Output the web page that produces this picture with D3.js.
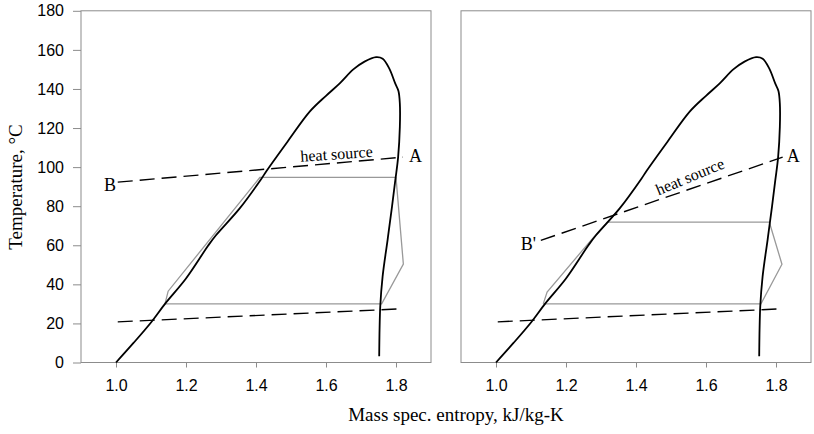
<!DOCTYPE html>
<html><head><meta charset="utf-8">
<script src="https://cdn.jsdelivr.net/npm/d3@7"></script>
<style>body{margin:0;background:#fff}svg{display:block}</style>
</head><body>
<script>
// saturation dome (entropy kJ/kg-K, temperature °C)
const domeS = [1.0,1.05,1.10,1.14,1.20,1.264,1.285,1.354,1.416,1.43,1.49,1.554,1.60,1.64,1.678,1.71,1.743,1.762,1.781,1.798,1.807,1.811,1.811,1.806,1.798,1.7886,1.776,1.7617,1.755,1.752];
const domeT = [0,10,20.5,30,43,60,65,79,94.2,98,113,128.5,136.5,143,150,154,156.3,155.5,150.4,142.7,139,132.5,120.6,105,93.3,79.8,62.8,44,28.7,3.2];
// ORC cycles
const cycleLeftS  = [1.14,1.149,1.411,1.80,1.821,1.759,1.14];
const cycleLeftT  = [30,36.5,94.7,94.7,50.4,30,30];
const cycleRightS = [1.135,1.146,1.273,1.318,1.781,1.817,1.757,1.135];
const cycleRightT = [30,36,62.9,71.8,71.8,50.3,30,30];
// heat source / sink lines
const srcLeftS = [1.005,1.82],  srcLeftT = [92.3,105.1];
const srcRightS = [1.128,1.819], srcRightT = [62.5,105.1];
const sinkS = [1.005,1.82], sinkT = [20.8,27.5];
const xTicks = [1.0,1.2,1.4,1.6,1.8];
const yTicks = [0,20,40,60,80,100,120,140,160,180];

const W=814,H=434;
const svg=d3.select("body").append("svg").attr("width",W).attr("height",H);
const y=d3.scaleLinear().domain([0,180]).range([362.5,10.8]);
const panels=[
  {x0:81,x1:431,cyc:[cycleLeftS,cycleLeftT],src:[srcLeftS,srcLeftT],yaxis:true,
   labels:[{t:"A",s:1.837,T:102.6,a:"start"},{t:"B",s:0.966,T:87.9,a:"start"}],
   hs:{s:1.631,T:104.0,r:-4}},
  {x0:461,x1:811,cyc:[cycleRightS,cycleRightT],src:[srcRightS,srcRightT],yaxis:false,
   labels:[{t:"A",s:1.8306,T:102.4,a:"start"},{t:"B'",s:1.071,T:57.6,a:"start"}],
   hs:{s:1.56,T:92.6,r:-22.5}}
];
const zip=(a,b)=>a.map((v,i)=>[v,b[i]]);
panels.forEach(p=>{
  const x=d3.scaleLinear().domain([0.9,1.9]).range([p.x0,p.x1]);
  const g=svg.append("g");
  const line=d3.line().x(d=>x(d[0])).y(d=>y(d[1]));
  const smooth=d3.line().x(d=>x(d[0])).y(d=>y(d[1])).curve(d3.curveCatmullRom.alpha(0.5));
  // frame
  g.append("rect").attr("x",p.x0).attr("y",y(180)).attr("width",p.x1-p.x0).attr("height",y(0)-y(180))
   .attr("fill","none").attr("stroke","#8c8c8c").attr("stroke-width",1);
  const xa=g.append("g").attr("transform",`translate(0,${y(0)})`)
   .call(d3.axisBottom(x).tickValues(xTicks).tickFormat(d3.format(".1f")).tickSize(5).tickPadding(12));
  xa.select(".domain").remove();
  xa.selectAll("line").attr("stroke","#8c8c8c");
  xa.selectAll("text").attr("font-family","Liberation Sans, Arial").attr("font-size",16).attr("fill","#000");
  if(p.yaxis){
    const ya=g.append("g").attr("transform",`translate(${p.x0},0)`)
     .call(d3.axisLeft(y).tickValues(yTicks).tickSize(8).tickPadding(9));
    ya.select(".domain").remove();
    ya.selectAll("line").attr("stroke","#8c8c8c");
    ya.selectAll("text").attr("font-family","Liberation Sans, Arial").attr("font-size",16).attr("fill","#000");
  }
  // cycle
  g.append("path").attr("d",line(zip(p.cyc[0],p.cyc[1]))).attr("fill","none").attr("stroke","#999").attr("stroke-width",1.3);
  // dome
  g.append("path").attr("d",smooth(zip(domeS,domeT))).attr("fill","none").attr("stroke","#000").attr("stroke-width",1.8).attr("stroke-linejoin","round");
  // dashed lines
  [p.src,[sinkS,sinkT]].forEach(l=>{
    g.append("path").attr("d",line(zip(l[0],l[1]))).attr("fill","none").attr("stroke","#000")
     .attr("stroke-width",1.4).attr("stroke-dasharray","15,7");
  });
  p.labels.forEach(l=>{
    g.append("text").attr("x",x(l.s)).attr("y",y(l.T)).attr("text-anchor",l.a)
     .attr("font-family","Liberation Serif, Times New Roman").attr("font-size",18).text(l.t);
  });
  g.append("text").attr("transform",`translate(${x(p.hs.s)},${y(p.hs.T)}) rotate(${p.hs.r})`)
   .attr("text-anchor","middle").attr("font-family","Liberation Serif, Times New Roman").attr("font-size",16).text("heat source");
});
svg.append("text").attr("transform",`translate(22,187) rotate(-90)`).attr("text-anchor","middle")
  .attr("font-family","Liberation Serif, Times New Roman").attr("font-size",19).text("Temperature, °C");
svg.append("text").attr("x",456).attr("y",421).attr("text-anchor","middle")
  .attr("font-family","Liberation Serif, Times New Roman").attr("font-size",19).text("Mass spec. entropy, kJ/kg-K");
</script>
</body></html>
